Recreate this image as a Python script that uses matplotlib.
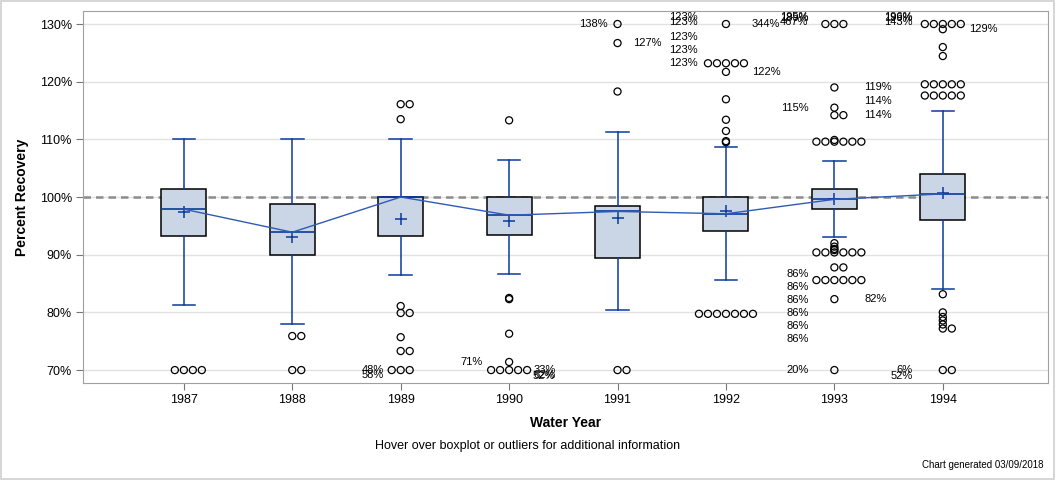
import matplotlib
matplotlib.use("Agg")
import matplotlib.pyplot as plt
from matplotlib.patches import Rectangle
from collections import Counter

plt.rcParams['font.family'] = ['Liberation Sans', 'DejaVu Sans']

# data
years = ['1987', '1988', '1989', '1990', '1991', '1992', '1993', '1994']
q1 = [93.2, 90.0, 93.2, 93.4, 89.4, 94.1, 97.9, 96.0]
med = [97.9, 93.9, 100.0, 96.85, 97.5, 97.1, 99.6, 100.55]
q3 = [101.35, 98.75, 100.0, 100.0, 98.5, 100.0, 101.45, 104.0]
whislo = [81.25, 77.95, 86.45, 86.6, 80.4, 85.6, 93.0, 84.0]
whishi = [110.0, 110.0, 110.0, 106.5, 111.35, 108.6, 106.2, 114.9]
means = [97.4, 93.0, 96.15, 95.9, 96.3, 97.55, 99.6, 100.7]

outliers = [
    [70, 70, 70, 70],
    [75.9, 75.9, 70, 70],
    [116.1, 116.1, 113.5, 81.1, 79.9, 79.9, 75.7, 73.3, 73.3, 70, 70, 70],
    [113.3, 82.5, 82.3, 76.3, 71.4, 70, 70, 70, 70, 70],
    [130, 126.7, 118.3, 70, 70],
    [130, 123.2, 123.2, 123.2, 123.2, 123.2, 121.7, 116.95, 113.4, 111.45,
     109.7, 109.5, 79.75, 79.75, 79.75, 79.75, 79.75, 79.75, 79.75],
    [130, 130, 130, 119.0, 115.5, 114.2, 114.2, 109.9, 109.6, 109.6, 109.6,
     109.6, 109.6, 109.6, 92.0, 91.4, 91.0, 90.8, 90.4, 90.4, 90.4, 90.4,
     90.4, 90.4, 87.8, 87.8, 85.6, 85.6, 85.6, 85.6, 85.6, 85.6, 82.3, 70],
    [130, 130, 130, 130, 130, 129.1, 126.0, 124.45, 119.55, 119.55, 119.55,
     119.55, 119.55, 117.6, 117.6, 117.6, 117.6, 117.6, 83.15, 80.0, 79.2,
     78.6, 77.9, 77.2, 77.2, 70, 70],
]

# outlier value labels: (year index, label height, text, side)
labels = [
    (2, 70.0, '48%', 'L'), (2, 69.1, '58%', 'L'),
    (3, 71.4, '71%', 'L'), (3, 70.0, '33%', 'R'), (3, 69.2, '62%', 'R'), (3, 69.0, '52%', 'R'),
    (4, 130.0, '138%', 'L'), (4, 126.7, '127%', 'R'),
    (5, 131.2, '123%', 'L'), (5, 130.35, '123%', 'L'), (5, 127.75, '123%', 'L'),
    (5, 125.5, '123%', 'L'), (5, 123.25, '123%', 'L'),
    (5, 130.0, '344%', 'R'), (5, 121.7, '122%', 'R'),
    (6, 131.2, '195%', 'L'), (6, 131.0, '189%', 'L'), (6, 130.35, '467%', 'L'),
    (6, 115.5, '115%', 'L'), (6, 119.0, '119%', 'R'), (6, 116.6, '114%', 'R'), (6, 114.2, '114%', 'R'),
    (6, 86.7, '86%', 'L'), (6, 84.45, '86%', 'L'), (6, 82.2, '86%', 'L'),
    (6, 79.95, '86%', 'L'), (6, 77.7, '86%', 'L'), (6, 75.45, '86%', 'L'),
    (6, 82.3, '82%', 'R'), (6, 70.0, '20%', 'L'),
    (7, 131.2, '196%', 'L'), (7, 131.0, '199%', 'L'), (7, 130.35, '143%', 'L'),
    (7, 129.1, '129%', 'R'), (7, 70.0, '6%', 'L'), (7, 69.0, '52%', 'L'),
]

# layout
px = 1 / 108.5                       # one pixel in category units
left_off = [10, 10, 17, 26, 10, 28, 26, 30]
right_off = [16, 16, 16, 24, 16, 26, 30, 26]
dark_blue = '#0b3a9c'

fig = plt.figure(figsize=(10.56, 4.8), dpi=100)
ax = fig.add_axes([0.0786, 0.202, 0.9138, 0.775])

pos = list(range(len(years)))
stats = []
for i in pos:
    stats.append(dict(med=med[i], q1=q1[i], q3=q3[i], whislo=whislo[i],
                      whishi=whishi[i], mean=means[i], fliers=[]))

ax.bxp(stats, positions=pos, widths=0.415, patch_artist=True, showmeans=True,
       boxprops=dict(facecolor='#cad5e6', edgecolor='black', linewidth=1.1),
       medianprops=dict(color=dark_blue, linewidth=1.2),
       whiskerprops=dict(color=dark_blue, linewidth=1.1),
       capprops=dict(color=dark_blue, linewidth=1.1),
       meanprops=dict(marker='+', markersize=9, markeredgecolor=dark_blue,
                      markeredgewidth=1.1),
       zorder=3)

# line through medians
ax.plot(pos, med, color='#2f5bb7', linewidth=1, zorder=4)

# outliers, side by side when repeated
for i, vals in enumerate(outliers):
    for v, n in Counter(vals).items():
        start = -((n - 1) // 2)
        xs = [i + (start + k) * 9 * px for k in range(n)]
        ax.scatter(xs, [v] * n, s=26, facecolors='none', edgecolors='black',
                   linewidths=0.9, zorder=5)

for i, y, t, side in labels:
    if side == 'L':
        ax.text(i - left_off[i] * px, y, t, ha='right', va='center', fontsize=8, zorder=6)
    else:
        ax.text(i + right_off[i] * px, y, t, ha='left', va='center', fontsize=8, zorder=6)

ax.axhline(100, color='#8c8c8c', linestyle=(0, (3, 2)), linewidth=1.8, zorder=2)

ax.set_xlim(-0.93, 7.97)
ax.set_ylim(67.75, 132.25)
ax.set_yticks([70, 80, 90, 100, 110, 120, 130])
ax.set_yticklabels(['70%', '80%', '90%', '100%', '110%', '120%', '130%'])
ax.set_xticks(pos)
ax.set_xticklabels(years)
ax.grid(axis='y', color='#e2e2e2', linewidth=1)
ax.set_axisbelow(True)
ax.tick_params(axis='both', labelsize=9, length=5, color='#777777', pad=3)
for s in ax.spines.values():
    s.set_color('#a0a0a0')

ax.set_ylabel('Percent Recovery', fontsize=10, fontweight='bold', labelpad=8)
ax.set_xlabel('Water Year', fontsize=10, fontweight='bold', labelpad=7)

fig.text(0.5, 1 - 446 / 480, 'Hover over boxplot or outliers for additional information',
         ha='center', va='center', fontsize=9)
fig.text(0.988, 1 - 465 / 480, 'Chart generated 03/09/2018', ha='right', va='center',
         fontsize=7)
fig.patches.append(Rectangle((0.001, 0.002), 0.997, 0.996, transform=fig.transFigure,
                             fill=False, edgecolor='#cfcfcf', linewidth=1.2))

fig.savefig('out.png', dpi=100)
